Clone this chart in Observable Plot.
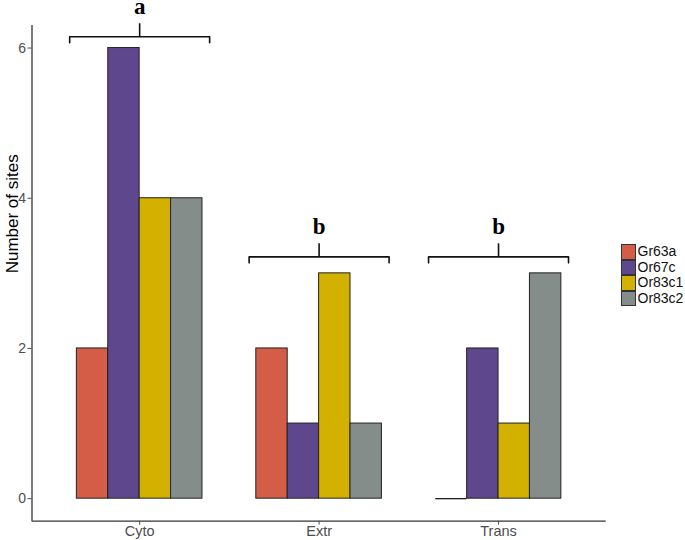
<!DOCTYPE html>
<html><head><meta charset="utf-8">
<script src="https://cdn.jsdelivr.net/npm/d3@7"></script>
<script src="https://cdn.jsdelivr.net/npm/@observablehq/plot@0.6"></script>
<style>
body{margin:0;background:#fff;}
#wrap{position:relative;width:685px;height:540px;font-family:"Liberation Sans",Arial,sans-serif;}
#legend{position:absolute;left:620.5px;top:244px;}
.row{display:flex;align-items:center;height:15.5px;}
.sw{width:15px;height:15.5px;box-sizing:border-box;border:1px solid #333;}
.lb{margin-left:2px;font-size:14px;color:#111;line-height:15.5px;}
</style></head><body><div id="wrap"></div>
<script>
const categories = ["Cyto","Extr","Trans"];
const series = ["Gr63a","Or67c","Or83c1","Or83c2"];
const gr63a = [2,2,0];
const or67c = [6,1,2];
const or83c1 = [4,3,1];
const or83c2 = [4,1,3];
const colors = ["#D45D48","#5E478C","#D2B100","#848D8A"];
const yTicks = [0,2,4,6];
const bracketLabels = ["a","b","b"];
const bracketLevels = [6.15,3.22,3.22];

const seriesValues = [gr63a, or67c, or83c1, or83c2];
const groupWidth = 0.7, barW = groupWidth / series.length;
const rows = [];
categories.forEach((c, i) => series.forEach((s, j) => rows.push({
  category: c, series: s, value: seriesValues[j][i],
  x1: i + 1 - groupWidth / 2 + j * barW,
  x2: i + 1 - groupWidth / 2 + (j + 1) * barW
})));

const braceHalf = 0.39, hook = 0.08, stem = 0.173;
const brace = [];
bracketLevels.forEach((L, i) => {
  const c = i + 1;
  brace.push({b: i, x: c - braceHalf, y: L - hook}, {b: i, x: c - braceHalf, y: L},
             {b: i, x: c + braceHalf, y: L}, {b: i, x: c + braceHalf, y: L - hook});
});
const stems = bracketLevels.map((L, i) => ({x: i + 1, y1: L, y2: L + stem, label: bracketLabels[i]}));

const chart = Plot.plot({
  width: 685, height: 540,
  marginLeft: 31.5, marginRight: 79.3, marginTop: 25, marginBottom: 19.3,
  x: {domain: [0.4, 3.6]},
  y: {domain: [-0.3, 6.3]},
  color: {domain: series, range: colors},
  style: {fontFamily: "Liberation Sans, Arial, sans-serif", background: "white", overflow: "visible"},
  marks: [
    Plot.rect(rows, {x1: "x1", x2: "x2", y1: d => 0, y2: "value", fill: "series", stroke: "#222", strokeWidth: 1}),
    Plot.ruleY(rows.filter(d => d.value === 0), {x1: "x1", x2: "x2", y: "value", stroke: "#222", strokeWidth: 1.3}),
    Plot.ruleY([-0.3], {stroke: "#333", strokeWidth: 1.3}),
    Plot.ruleX([0.4], {stroke: "#333", strokeWidth: 1.3}),
    Plot.axisY({ticks: yTicks, tickFormat: d => String(d), tickSize: 4, tickPadding: 2, fontSize: 14, color: "#4d4d4d", label: null}),
    Plot.axisX({ticks: [1, 2, 3], tickFormat: d => categories[d - 1], tickSize: 4, tickPadding: 1, fontSize: 14.5, color: "#4d4d4d", label: null}),
    Plot.text(["Number of sites"], {frameAnchor: "left", rotate: -90, dx: -19, fontSize: 17, fill: "black"}),
    Plot.line(brace, {x: "x", y: "y", z: "b", stroke: "#111", strokeWidth: 1.6, strokeLinejoin: "round"}),
    Plot.ruleX(stems, {x: "x", y1: "y1", y2: "y2", stroke: "#111", strokeWidth: 1.6}),
    Plot.text(stems, {x: "x", y: "y2", text: "label", dy: -10, lineAnchor: "bottom", fontFamily: "Liberation Serif, Times New Roman, serif", fontWeight: "bold", fontSize: 23, fill: "black"})
  ]
});
const wrap = document.getElementById("wrap");
wrap.appendChild(chart);
const legend = document.createElement("div");
legend.id = "legend";
series.forEach((s, j) => {
  const row = document.createElement("div");
  row.className = "row";
  const sw = document.createElement("div");
  sw.className = "sw";
  sw.style.background = colors[j];
  const lb = document.createElement("span");
  lb.className = "lb";
  lb.textContent = s;
  row.appendChild(sw); row.appendChild(lb);
  legend.appendChild(row);
});
wrap.appendChild(legend);
</script></body></html>
